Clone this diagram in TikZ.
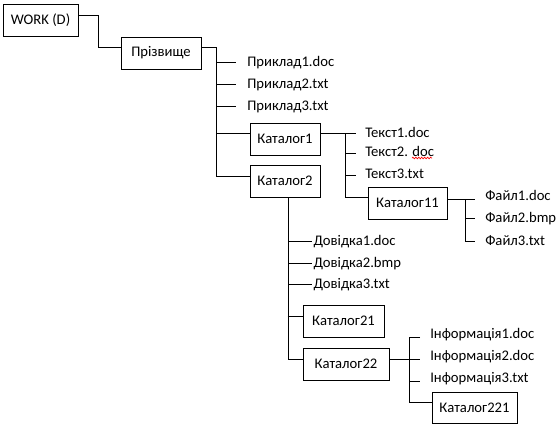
\documentclass[tikz,border=0pt]{standalone}
\usepackage{fontspec}
\setmainfont{Carlito}
\usetikzlibrary{calc,decorations.pathmorphing}
\begin{document}
\begin{tikzpicture}[x=0.75pt,y=-0.75pt,
  dirbox/.style={draw, line width=0.7pt, inner sep=0pt, minimum height=24pt, font=\fontsize{11}{13}\selectfont},
  fname/.style={anchor=west, inner ysep=0pt, inner xsep=#1, text height=7pt, text depth=0pt, font=\fontsize{11}{13}\selectfont},
  conn/.style={line width=0.7pt},
  spell/.style={red, line width=0.5pt, decorate, decoration={snake, amplitude=0.6pt, segment length=2.2pt}}]
\useasboundingbox (0,0) rectangle (558,429);
\fill[white] (0,0) rectangle (558,429);

% directory boxes
\node[dirbox, minimum width=56.25pt] (work) at (40.5,20) {WORK (D)};
\node[dirbox, minimum width=60pt] (pr) at (161,53) {Прізвище};
\node[dirbox, minimum width=52.5pt] (k1) at (285,139) {Каталог1};
\node[dirbox, minimum width=52.5pt] (k2) at (285,181) {Каталог2};
\node[dirbox, minimum width=59.25pt] (k11) at (407.5,203) {Каталог11};
\node[dirbox, minimum width=60.75pt] (k21) at (343.5,321) {Каталог21};
\node[dirbox, minimum width=64.5pt] (k22) at (346,364) {Каталог22};
\node[dirbox, minimum width=63.75pt, minimum height=23.25pt] (k221) at (474.5,407.5) {Каталог221};

% file labels
\node[fname=8.25pt] (p1) at (236,62) {Приклад1.doc};
\node[fname=8.25pt] (p2) at (236,84) {Приклад2.txt};
\node[fname=8.25pt] (p3) at (236,106) {Приклад3.txt};

\node[fname=6.75pt] (t1) at (356,133) {Текст1.doc};
\node[fname=6.75pt] (t2) at (356,152) {Текст2. doc};
\node[fname=6.75pt] (t3) at (356,174) {Текст3.txt};

\node[fname=7.5pt] (f1) at (475,196) {Файл1.doc};
\node[fname=7.5pt] (f2) at (475,218) {Файл2.bmp};
\node[fname=7.5pt] (f3) at (475,241) {Файл3.txt};

\node[fname=1pt] (d1) at (312,241) {Довідка1.doc};
\node[fname=1pt] (d2) at (312,263) {Довідка2.bmp};
\node[fname=1pt] (d3) at (312,284) {Довідка3.txt};

\node[fname=7.5pt] (i1) at (420,334) {Інформація1.doc};
\node[fname=7.5pt] (i2) at (420,356) {Інформація2.doc};
\node[fname=7.5pt] (i3) at (420,378) {Інформація3.txt};

% spine coordinates
\coordinate (s1) at (217,47);
\coordinate (s2) at (346,133);
\coordinate (s3) at (465,199);
\coordinate (s4) at (288,197);
\coordinate (s5) at (410,337);

% WORK -> Прізвище
\draw[conn] ($(work.east)+(0,-5)$) -| ($(pr.west)+(-22,-6)$) -- ($(pr.west)+(0,-6)$);

% Прізвище
\draw[conn] ($(pr.east)+(0,-6)$) -| ($(k2.west)+(-33,-5)$) -- ($(k2.west)+(0,-5)$);
\draw[conn] ($(k1.west)+(-33,-6)$) -- ($(k1.west)+(0,-6)$);
\draw[conn] (p1.west -| s1) -- (p1.west);
\draw[conn] (p2.west -| s1) -- (p2.west);
\draw[conn] (p3.west -| s1) -- (p3.west);

% Каталог1
\draw[conn] ($(k1.east)+(0,-6)$) -| ($(k11.west)+(-22,-6)$) -- ($(k11.west)+(0,-6)$);
\draw[conn] (t1.west -| s2) -- (t1.west);
\draw[conn] ($(t2.west)+(-10,1)$) -- ($(t2.west)+(0,1)$);
\draw[conn] ($(t3.west)+(-10,1)$) -- ($(t3.west)+(0,1)$);
\draw[spell] ($(t2.west)+(56,6)$) -- ($(t2.west)+(76,6)$);

% Каталог11
\draw[conn] ($(k11.east)+(0,-4)$) -- ($(k11.east)+(28,-4)$);
\draw[conn] ($(k11.east)+(18,-4)$) |- (f3.west);
\draw[conn] (f2.west -| s3) -- (f2.west);

% Каталог2
\draw[conn] (k2.south -| s4) |- ($(k22.west)+(0,-5)$);
\draw[conn] (d1.west -| s4) -- (d1.west);
\draw[conn] (d2.west -| s4) -- (d2.west);
\draw[conn] (d3.west -| s4) -- (d3.west);
\draw[conn] ($(k21.west)+(-15,-5)$) -- ($(k21.west)+(0,-5)$);

% Каталог22
\draw[conn] ($(k22.east)+(0,-5)$) -- ($(k22.east)+(31,-5)$);
\draw[conn] ($(i1.west)+(0,3)$) -| ($(k221.west)+(-22,-5.5)$) -- ($(k221.west)+(0,-5.5)$);
\draw[conn] ($(i3.west)+(-10,3)$) -- ($(i3.west)+(0,3)$);
\end{tikzpicture}
\end{document}
